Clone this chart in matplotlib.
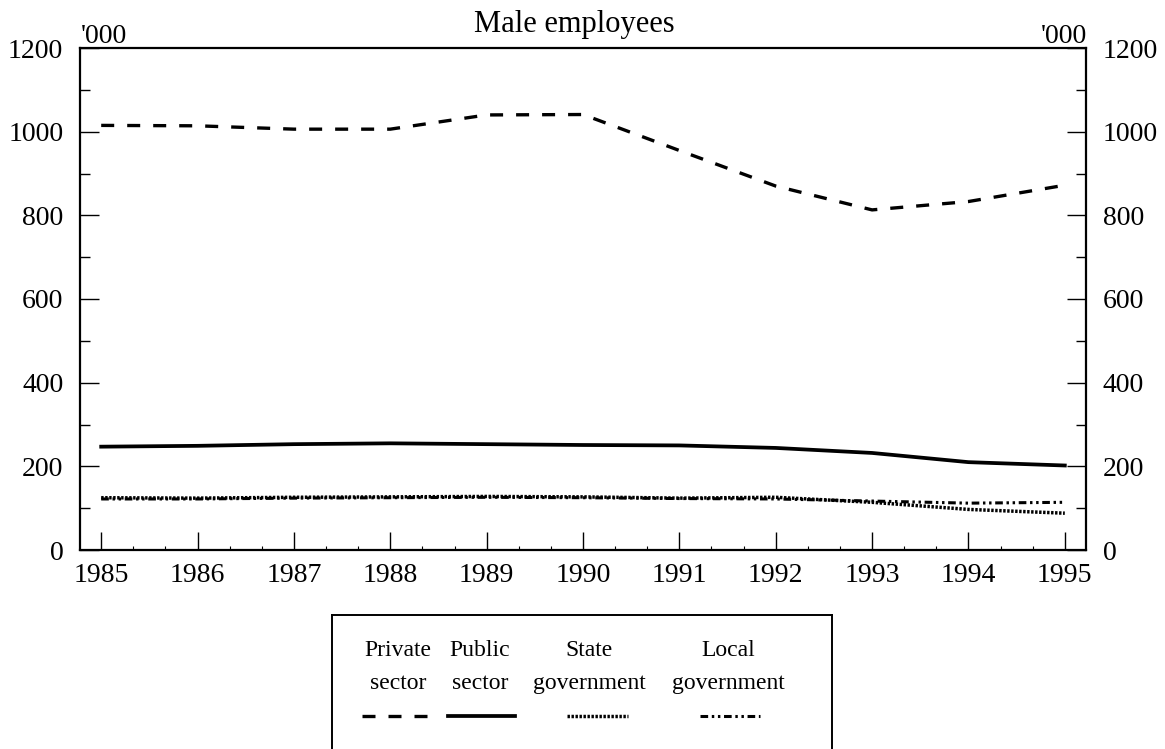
import numpy as np
import matplotlib
matplotlib.use("Agg")
import matplotlib.pyplot as plt
from matplotlib.ticker import MultipleLocator

plt.rcParams['font.family'] = ['Liberation Serif', 'DejaVu Serif']

# dados
anos = [1985, 1986, 1987, 1988, 1989, 1990, 1991, 1992, 1993, 1994, 1995]
privado = [1015, 1014, 1006, 1006, 1040, 1041, 955, 870, 813, 833, 872]
publico = [247, 249, 253, 255, 253, 251, 250, 244, 232, 210, 202]
estadual = [125, 124, 126, 127, 128, 127, 124, 126, 114, 97, 88]
local = [122, 122, 124, 125, 126, 125, 123, 122, 117, 112, 114]

nomes = ["Private\nsector", "Public\nsector", "State\ngovernment", "Local\ngovernment"]
titulo = "Male employees"
unidade = "'000"

W, H = 1165, 749
fig = plt.figure(figsize=(W / 100, H / 100), dpi=100)
ax = fig.add_axes([80 / W, 1 - 550 / H, 1006 / W, 502 / H])

estilos = [
    dict(color='black', lw=2.4, ls=(0, (3.9, 3.9))),
    dict(color='black', lw=2.7, ls='-'),
    dict(color='black', lw=2.5, ls=(0, (0.7, 0.45))),
    dict(color='black', lw=2.2, ls=(0, (2.5, 1.2, 0.8, 1.2, 0.8, 1.2))),
]
series = [privado, publico, estadual, local]
for s, st in zip(series, estilos):
    ax.plot(anos, s, **st)

ax.set_xlim(1984.78, 1995.22)
ax.set_ylim(0, 1200)
ax.set_xticks(anos)
ax.xaxis.set_minor_locator(MultipleLocator(1 / 3))
ax.set_yticks(range(0, 1201, 200))
ax.yaxis.set_minor_locator(MultipleLocator(100))
ax.tick_params(axis='y', which='major', direction='in', length=14, width=1, labelsize=20,
               left=True, right=True, labelleft=True, labelright=True, pad=12)
ax.tick_params(axis='y', which='minor', direction='in', length=7, width=1, left=True, right=True)
ax.tick_params(axis='x', which='major', direction='in', length=13, width=1, labelsize=20, pad=9)
ax.tick_params(axis='x', which='minor', direction='in', length=3, width=0.8)
for sp in ax.spines.values():
    sp.set_linewidth(1.6)

# titulo e unidades
fig.text(574 / W, 1 - 32 / H, titulo, ha='center', va='baseline', fontsize=22)
fig.text(81 / W, 1 - 43 / H, unidade, ha='left', va='baseline', fontsize=20)
fig.text(1087 / W, 1 - 43 / H, unidade, ha='right', va='baseline', fontsize=20)

# legenda feita a mao (texto em cima, amostra embaixo)
lg = fig.add_axes([332 / W, 0, 500 / W, 134 / H])
lg.set_xlim(332, 832)
lg.set_ylim(749, 615)
lg.set_xticks([])
lg.set_yticks([])
lg.spines['bottom'].set_visible(False)
for k in ['top', 'left', 'right']:
    lg.spines[k].set_linewidth(1.4)
centros = [398, 480, 589, 728]
amostras = [(362, 427), (448, 515), (567, 628), (700, 760)]
for nome, cx, (a, b), st in zip(nomes, centros, amostras, estilos):
    l1, l2 = nome.split("\n")
    lg.text(cx, 656, l1, ha='center', va='baseline', fontsize=17)
    lg.text(cx, 689, l2, ha='center', va='baseline', fontsize=17)
    lg.plot([a, b], [716, 716], **st)

fig.savefig("out.png", dpi=100)
